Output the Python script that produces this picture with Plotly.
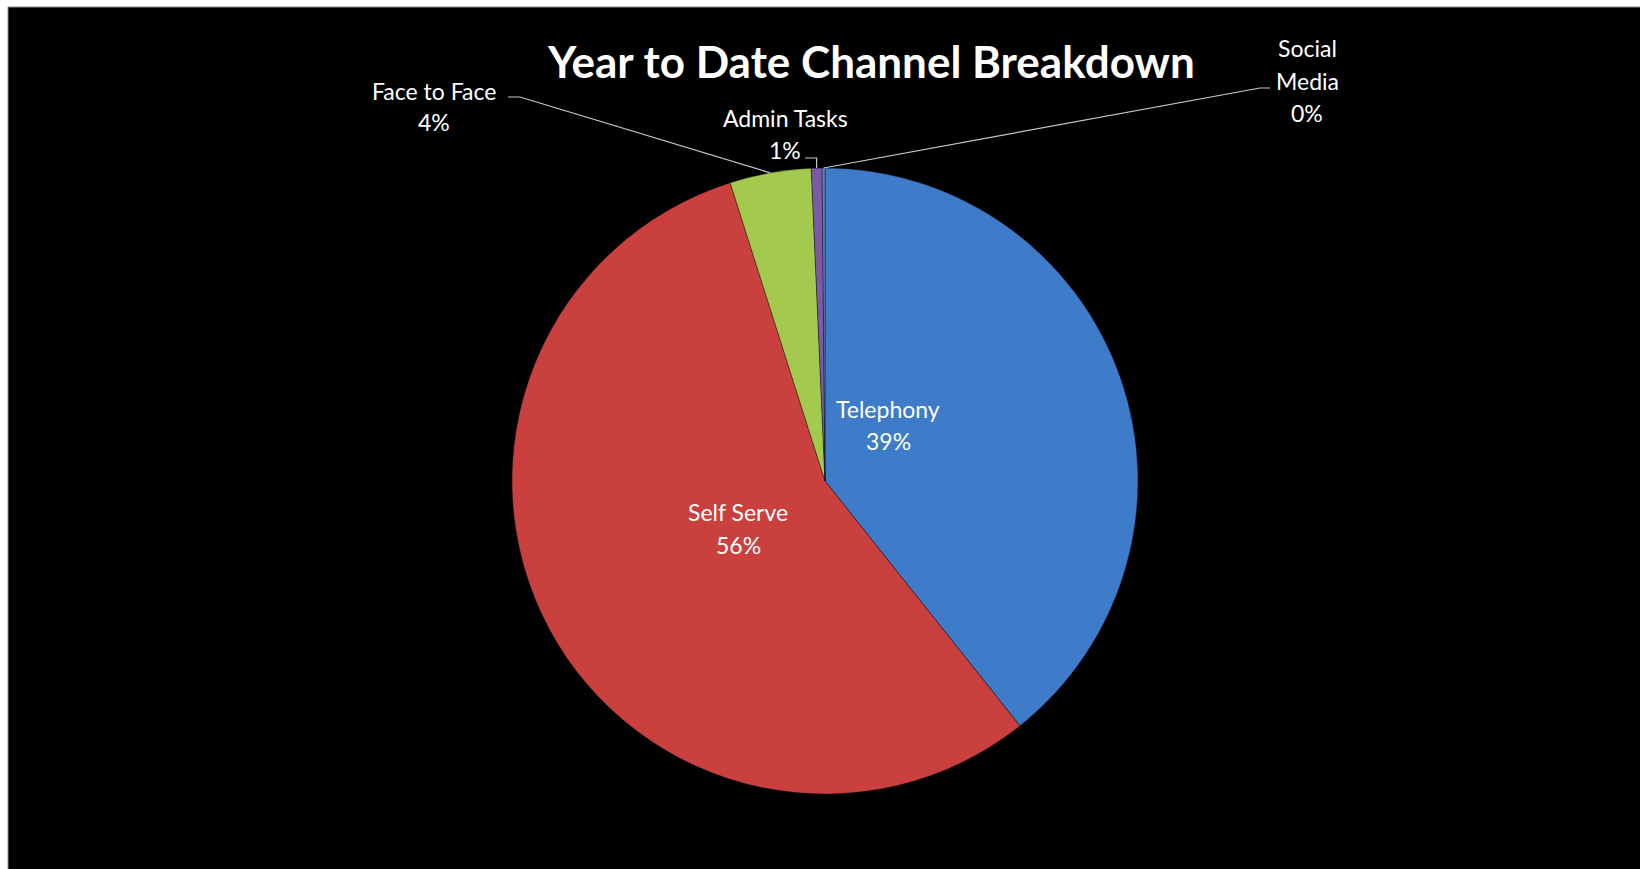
import math
import plotly.graph_objects as go

# ---- data ----
categories = ["Telephony", "Self Serve", "Face to Face", "Admin Tasks", "Social Media"]
values = [39.3, 55.8, 4.2, 0.55, 0.15]
colors = ["#3E7BC8", "#C9403E", "#A3C94F", "#7C5AA8", "#5B7FC0"]
title_text = "Year to Date Channel Breakdown"

W, H = 1640, 869
CX, CY, R = 825, 481, 313  # pie centre / radius in pixels


def px(x):
    return x / W


def py(y):
    return 1 - y / H


total = sum(values)
pcts = [v / total for v in values]

fig = go.Figure()
fig.add_trace(go.Pie(
    labels=categories,
    values=values,
    sort=False,
    direction="clockwise",
    rotation=0,
    marker=dict(colors=colors, line=dict(color="rgba(0,0,0,0.35)", width=1)),
    textinfo="none",
    hoverinfo="label+percent",
    showlegend=False,
    domain=dict(x=[px(CX - R), px(CX + R)], y=[py(CY + R), py(CY - R)]),
))

font_lbl = dict(family="Lato, Open Sans, sans-serif", size=23, color="white")

# label line positions (pixels) for each category
label_pos = {
    "Telephony": [(888, 409), (888, 441)],
    "Self Serve": [(738, 512), (738, 545)],
    "Face to Face": [(434, 91), (434, 122)],
    "Admin Tasks": [(785, 118), (785, 150)],
    "Social Media": [(1307, 48), (1307, 81), (1307, 113)],
}

annotations = [dict(
    text="<b>" + title_text + "</b>", x=px(871), y=py(61), xref="paper", yref="paper",
    showarrow=False, xanchor="center", yanchor="middle",
    font=dict(family="Lato, Open Sans, sans-serif", size=44, color="white"))]

for cat, p in zip(categories, pcts):
    words = cat.split(" ") if cat == "Social Media" else [cat]
    lines = words + [f"{math.floor(p * 100 + 0.5):.0f}%"]
    for (lx, ly), t in zip(label_pos[cat], lines):
        annotations.append(dict(text=t, x=px(lx), y=py(ly), xref="paper", yref="paper",
                                showarrow=False, xanchor="center", yanchor="middle",
                                font=font_lbl))

# leader lines for the small outside slices: (label end, elbow y) in pixels
leader = {
    "Face to Face": (508, 97),
    "Admin Tasks": (805, 158),
    "Social Media": (1270, 88),
}

shapes = [dict(type="rect", xref="paper", yref="paper", x0=px(8), x1=1.01, y0=-0.01, y1=py(7),
               fillcolor="black", line=dict(color="#8C8C8C", width=1), layer="below")]

cum = 0.0
for cat, p in zip(categories, pcts):
    mid = cum + p / 2
    cum += p
    if cat not in leader:
        continue
    theta = 2 * math.pi * mid
    ex = CX + R * math.sin(theta)
    ey = CY - R * math.cos(theta)
    sx, sy = leader[cat]
    if cat == "Admin Tasks":
        pts = [(sx, sy), (ex, sy), (ex, ey)]
    elif cat == "Face to Face":
        pts = [(sx, sy), (sx + 12, sy), (ex, ey)]
    else:
        pts = [(sx, sy), (sx - 10, sy), (ex, ey)]
    path = "M " + " L ".join(f"{px(a)},{py(b)}" for a, b in pts)
    shapes.append(dict(type="path", xref="paper", yref="paper", path=path,
                       line=dict(color="#C8C8C8", width=1.2), layer="above"))

fig.update_layout(
    width=W, height=H,
    margin=dict(l=0, r=0, t=0, b=0),
    paper_bgcolor="white",
    plot_bgcolor="white",
    annotations=annotations,
    shapes=shapes,
)

fig.write_html("out.html")
